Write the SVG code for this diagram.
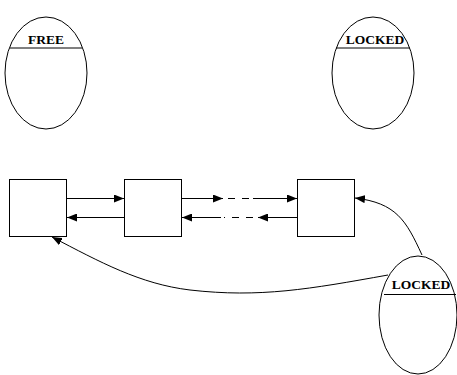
<svg xmlns="http://www.w3.org/2000/svg" width="457" height="375" viewBox="0 0 457 375">
  <style>
    .shape { fill: #fff; stroke: #000; stroke-width: 1; }
    .rule { stroke: #000; stroke-width: 1; }
    .lbl { font-family: "Liberation Serif", "Times New Roman", serif; font-weight: bold; font-size: 13.5px; fill: #000; text-anchor: middle; }
    .wire { fill: none; stroke: #000; stroke-width: 1; }
    .dash { fill: none; stroke: #000; stroke-width: 1; stroke-dasharray: 7 7; }
  </style>
  <defs>
    <marker id="head" viewBox="0 0 10 8" refX="10" refY="4" markerWidth="10" markerHeight="8" markerUnits="userSpaceOnUse" orient="auto">
      <path d="M0,0 L10,4 L0,8 Z" fill="#000"/>
    </marker>
  </defs>
  <rect width="457" height="375" fill="#fff"/>

  <g id="free">
    <ellipse class="shape" cx="46" cy="73" rx="41" ry="56"/>
    <line class="rule" x1="10" y1="48" x2="82" y2="48"/>
    <text class="lbl" x="46" y="44">FREE</text>
  </g>

  <g id="locked-top">
    <ellipse class="shape" cx="373" cy="73" rx="41" ry="56"/>
    <line class="rule" x1="336" y1="48" x2="410" y2="48"/>
    <text class="lbl" x="375" y="44">LOCKED</text>
  </g>

  <g id="block1"><rect class="shape" x="9.5" y="179.5" width="57" height="57"/></g>
  <g id="block2"><rect class="shape" x="124.5" y="179.5" width="57" height="57"/></g>
  <g id="block3"><rect class="shape" x="297.5" y="179.5" width="57" height="57"/></g>

  <g id="locked-bottom">
    <ellipse class="shape" cx="418" cy="315" rx="39" ry="59"/>
    <line class="rule" x1="384" y1="294.5" x2="456" y2="294.5"/>
    <text class="lbl" x="421" y="289">LOCKED</text>
  </g>

  <g id="connectors">
    <!-- block1 <-> block2 -->
    <line class="wire" x1="67" y1="198.5" x2="124" y2="198.5" marker-end="url(#head)"/>
    <line class="wire" x1="124" y1="217.5" x2="67" y2="217.5" marker-end="url(#head)"/>
    <!-- block2 <-> block3, broken in the middle -->
    <line class="wire" x1="182" y1="198.5" x2="223" y2="198.5" marker-end="url(#head)"/>
    <line class="dash" x1="228" y1="198.5" x2="250" y2="198.5"/>
    <line class="wire" x1="253" y1="198.5" x2="297" y2="198.5" marker-end="url(#head)"/>
    <line class="wire" x1="297" y1="217.5" x2="258" y2="217.5" marker-end="url(#head)"/>
    <line class="dash" x1="253" y1="217.5" x2="224" y2="217.5"/>
    <line class="wire" x1="221" y1="217.5" x2="182" y2="217.5" marker-end="url(#head)"/>
    <!-- from the lower LOCKED list to the blocks -->
    <path class="wire" d="M422,255 C406,220 396,203 355,198" marker-end="url(#head)"/>
    <path class="wire" d="M388,275 C310,289 260,298 190,290 C140,284 100,262 52,237" marker-end="url(#head)"/>
  </g>
</svg>
